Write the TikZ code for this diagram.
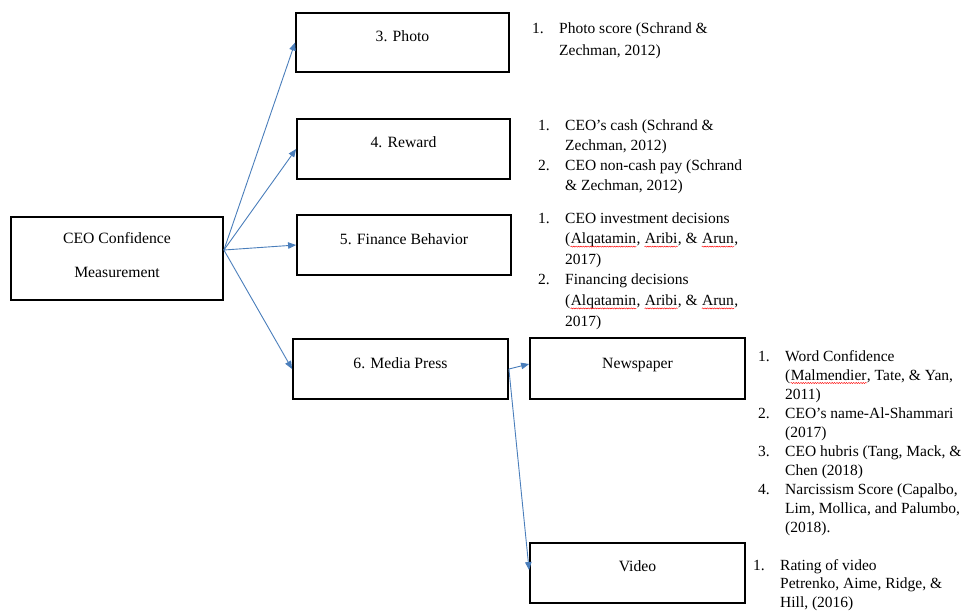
\documentclass[tikz,border=0pt]{standalone}
\usepackage{fontspec}
\setmainfont{Liberation Serif}
\usetikzlibrary{arrows.meta,decorations.pathmorphing}
\definecolor{arrowblue}{RGB}{74,126,187}
\newcommand\rwave[1]{\tikz[baseline=(w.base)]{\node[inner sep=0pt, anchor=base] (w) {#1};
  \draw[red, line width=0.45pt, decorate, decoration={snake, amplitude=0.55pt, segment length=2.4pt}]
    ([yshift=-3pt]w.base west) -- ([yshift=-3pt]w.base east);}}
\newcommand\lst[1]{\begin{tabular}[t]{@{}p{27pt}@{}l@{}}#1\end{tabular}}
\tikzset{
  box/.style={draw=black, line width=1.8pt, rectangle, inner sep=0pt},
  boxtext/.style={inner sep=0pt, anchor=mid, font={\fontsize{15.7}{20}\selectfont}},
  listtext/.style={inner sep=0pt, anchor=base west},
  conn/.style={draw=arrowblue, line width=0.9pt, -{Triangle[length=8pt,width=6.5pt]}}
}
\begin{document}
\begin{tikzpicture}[x=1pt, y=-1pt]
\useasboundingbox (0,0) rectangle (965,611);
% boxes
\node[box, minimum width=212pt, minimum height=83pt] (ceo) at (117,258.5) {};
\node[box, minimum width=213pt, minimum height=59pt] (photo) at (402.5,42.5) {};
\node[box, minimum width=213pt, minimum height=60pt] (reward) at (403.5,149) {};
\node[box, minimum width=214pt, minimum height=60pt] (finance) at (404,245) {};
\node[box, minimum width=215pt, minimum height=60pt] (media) at (400.5,369) {};
\node[box, minimum width=215pt, minimum height=61pt] (news) at (637.5,368.5) {};
\node[box, minimum width=215pt, minimum height=60pt] (video) at (637.5,573) {};
% box texts
\node[boxtext] (ceoT1) at (117,241) {CEO Confidence};
\node[boxtext] (ceoT2) at (117,275) {Measurement};
\node[boxtext] (photoT) at (402.5,39) {3. Photo};
\node[boxtext] (rewardT) at (403.5,145) {4. Reward};
\node[boxtext] (financeT) at (404,242) {5. Finance Behavior};
\node[boxtext] (mediaT) at (400.5,366) {6. Media Press};
\node[boxtext] (newsT) at (637.5,366) {Newspaper};
\node[boxtext] (videoT) at (637.5,569) {Video};
% connectors
\coordinate (ceoOut) at ([yshift=8.5pt]ceo.east);
\draw[conn] (ceoOut) -- (photo.west);
\draw[conn] (ceoOut) -- (reward.west);
\draw[conn] (ceoOut) -- (finance.west);
\draw[conn] (ceoOut) -- (media.west);
\draw[conn] (media.east) -- ([yshift=4.5pt]news.west);
\draw[conn] (media.east) -- ([yshift=3pt]video.west);
% lists
\node[listtext, font={\fontsize{15.5}{22}\selectfont}] (photoL) at (532,33)
  {\lst{1. & Photo score (Schrand \& \\ & Zechman, 2012)}};
\node[listtext, font={\fontsize{15.5}{20.3}\selectfont}] (rewardL) at (538,130)
  {\lst{1. & CEO's cash (Schrand \& \\ & Zechman, 2012) \\
        2. & CEO non-cash pay (Schrand \\ & \& Zechman, 2012)}};
\node[listtext, font={\fontsize{15.5}{20.6}\selectfont}] (financeL) at (538,223)
  {\lst{1. & CEO investment decisions \\ & (\rwave{Alqatamin}, \rwave{Aribi}, \& \rwave{Arun}, \\ & 2017) \\
        2. & Financing decisions \\ & (\rwave{Alqatamin}, \rwave{Aribi}, \& \rwave{Arun}, \\ & 2017)}};
\node[listtext, font={\fontsize{15.5}{19}\selectfont}] (newsL) at (758,361)
  {\lst{1. & Word Confidence \\ & (\rwave{Malmendier}, Tate, \& Yan, \\ & 2011) \\
        2. & CEO's name-Al-Shammari \\ & (2017) \\
        3. & CEO hubris (Tang, Mack, \& \\ & Chen (2018) \\
        4. & Narcissism Score (Capalbo, \\ & Lim, Mollica, and Palumbo, \\ & (2018).}};
\node[listtext, font={\fontsize{15.5}{18.5}\selectfont}] (videoL) at (753,570)
  {\lst{1. & Rating of video \\ & Petrenko, Aime, Ridge, \& \\ & Hill, (2016)}};
\end{tikzpicture}
\end{document}
